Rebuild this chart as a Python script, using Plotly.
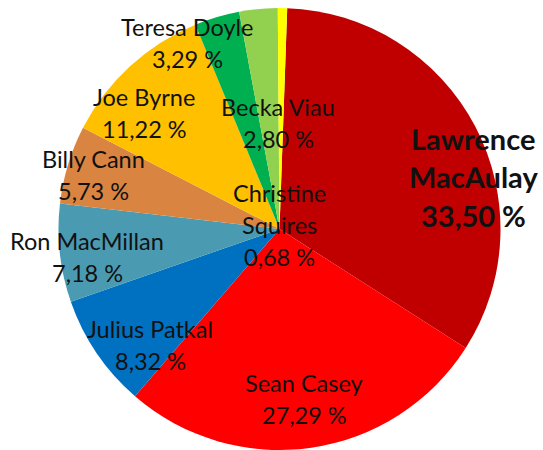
import plotly.graph_objects as go

candidates = ["Lawrence MacAulay", "Sean Casey", "Julius Patkal", "Ron MacMillan",
              "Billy Cann", "Joe Byrne", "Teresa Doyle", "Becka Viau", "Christine Squires"]
shares = [33.50, 27.29, 8.32, 7.18, 5.73, 11.22, 3.29, 2.80, 0.68]
colors = ["#C00000", "#FF0000", "#0070C0", "#4A9BB2", "#DA8442",
          "#FFC000", "#00B050", "#92D050", "#FFFF00"]

# label layout: line breaks in names, and pixel centre of the first line
label_lines = [
    ["Lawrence", "MacAulay"], ["Sean Casey"], ["Julius Patkal"], ["Ron MacMillan"],
    ["Billy Cann"], ["Joe Byrne"], ["Teresa Doyle"], ["Becka Viau"], ["Christine", "Squires"],
]
label_pos = [(473, 138), (304, 383), (150, 329), (87, 241), (93, 159),
             (144, 97), (187.5, 27), (278, 107), (279, 193)]

W, H = 543, 450

fig = go.Figure(go.Pie(
    labels=candidates, values=shares, sort=False, direction="clockwise", rotation=2,
    marker=dict(colors=colors, line=dict(width=0)),
    textinfo="none", hoverinfo="label+percent", showlegend=False,
    domain=dict(x=[(279.5 - 221) / W, (279.5 + 221) / W], y=[1 - 450 / H, 1 - 8 / H]),
))

FONT = "Lato, Calibri, sans-serif"
annotations = []
for i, (name_lines, share, (px, py)) in enumerate(zip(label_lines, shares, label_pos)):
    bold = i == 0
    step = 38.5 if bold else 32
    size = 29 if bold else 23.5
    lines = name_lines + [f"{share:.2f}".replace(".", ",") + " %"]
    for k, line in enumerate(lines):
        txt = f"<b>{line}</b>" if bold else line
        annotations.append(dict(
            text=txt,
            x=px / W,
            y=1 - (py + k * step) / H,
            xref="paper", yref="paper",
            showarrow=False, xanchor="center", yanchor="middle",
            font=dict(family=FONT, size=size, color="#111111"),
        ))

fig.update_layout(
    width=W, height=H, margin=dict(l=0, r=0, t=0, b=0),
    paper_bgcolor="white", plot_bgcolor="white",
    annotations=annotations,
)
fig.write_html(
    "out.html",
    config={"displayModeBar": False},
    post_script="document.body.style.margin='0';document.body.style.overflow='hidden';",
)
